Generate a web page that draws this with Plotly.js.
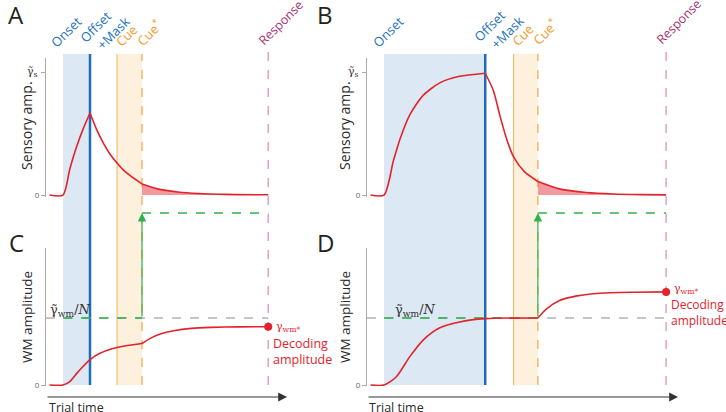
<!DOCTYPE html>
<html><head><meta charset="utf-8">
<script src="https://cdn.plot.ly/plotly-3.0.1.min.js"></script>
<style>html,body{margin:0;padding:0;background:#fff}</style>
</head><body><div id="chart" style="width:726px;height:412px"></div>
<script>
// ---- event data ----
const eventLabels = ['Onset', 'Offset<br>  +Mask', 'Cue', 'Cue<sup>*</sup>', 'Response'];
const eventColors = ['#2272c3', '#2272c3', '#f59a2c', '#f59a2c', '#a8306e'];
const eventTimesA = [0, 0.2, 0.4, 0.585, 1.52];
const eventTimesB = [0, 0.75, 0.96, 1.14, 2.09];

// ---- panel A: sensory amplitude (short stimulus) ----
const sensA_riseT = [-0.1, 0, 0.05, 0.1, 0.15, 0.2];
const sensA_riseV = [0, 0, 0.21, 0.39, 0.54, 0.667];
const sensA_decayT = [0.2, 0.25, 0.3, 0.35, 0.4, 0.45, 0.5, 0.585];
const sensA_decayV = [0.667, 0.53, 0.42, 0.33, 0.26, 0.2, 0.155, 0.09];
const sensA_tailT = [0.585, 0.7, 0.85, 1.0, 1.2, 1.52];
const sensA_tailV = [0.09, 0.05, 0.025, 0.012, 0.005, 0.002];

// ---- panel B: sensory amplitude (long stimulus) ----
const sensB_riseT = [-0.1, 0, 0.07, 0.12, 0.19, 0.29, 0.41, 0.56, 0.75];
const sensB_riseV = [0, 0, 0.28, 0.46, 0.65, 0.81, 0.91, 0.965, 0.99];
const sensB_decayT = [0.75, 0.81, 0.86, 0.91, 0.96, 1.04, 1.14];
const sensB_decayV = [0.99, 0.85, 0.64, 0.45, 0.31, 0.19, 0.11];
const sensB_tailT = [1.14, 1.3, 1.5, 1.7, 1.9, 2.09];
const sensB_tailV = [0.11, 0.05, 0.02, 0.008, 0.003, 0.001];

// ---- panel C: WM amplitude (short stimulus) ----
const wmC_preT = [-0.1, 0, 0.05, 0.1, 0.15, 0.2, 0.27, 0.4, 0.585];
const wmC_preV = [0, 0, 0.05, 0.17, 0.28, 0.38, 0.47, 0.56, 0.62];
const wmC_postT = [0.585, 0.65, 0.72, 0.82, 0.95, 1.1, 1.3, 1.52];
const wmC_postV = [0.62, 0.7, 0.76, 0.81, 0.845, 0.86, 0.868, 0.87];

// ---- panel D: WM amplitude (long stimulus) ----
const wmD_preT = [-0.1, 0, 0.09, 0.19, 0.29, 0.41, 0.56, 0.75, 1.14];
const wmD_preV = [0, 0, 0.12, 0.42, 0.67, 0.85, 0.94, 0.99, 1.0];
const wmD_postT = [1.14, 1.2, 1.3, 1.43, 1.6, 1.85, 2.09];
const wmD_postV = [1.0, 1.13, 1.26, 1.33, 1.37, 1.385, 1.39];

const wmLevel = 1;           // gamma_wm / N
const decodeC = [1.52, 0.87];
const decodeD = [2.09, 1.39];

// ---- helpers ----
const W = 726, H = 412;
const px = v => v / W;
const py = v => 1 - v / H;
const RED = '#e3232b', GREEN = '#2db24e', BLUE = '#1f6cb8';
const FONT = 'Open Sans, Noto Sans, sans-serif';
const SERIF = 'DejaVu Serif, serif';

function seg(xa, ya, t, v, extra) {
  return Object.assign({
    x: t, y: v, xaxis: xa, yaxis: ya, type: 'scatter', mode: 'lines',
    line: {color: RED, width: 1.6, shape: 'spline', smoothing: 0.7},
    hoverinfo: 'skip', showlegend: false
  }, extra || {});
}
const fillTail = {fill: 'tozeroy', fillcolor: 'rgba(232,70,80,0.55)'};

const traces = [
  seg('x', 'y', sensA_riseT, sensA_riseV),
  seg('x', 'y', sensA_decayT, sensA_decayV),
  seg('x', 'y', sensA_tailT, sensA_tailV, fillTail),
  seg('x2', 'y2', sensB_riseT, sensB_riseV),
  seg('x2', 'y2', sensB_decayT, sensB_decayV),
  seg('x2', 'y2', sensB_tailT, sensB_tailV, fillTail),
  seg('x3', 'y3', wmC_preT, wmC_preV),
  seg('x3', 'y3', wmC_postT, wmC_postV),
  seg('x4', 'y4', wmD_preT, wmD_preV),
  seg('x4', 'y4', wmD_postT, wmD_postV),
  {x: [decodeC[0]], y: [decodeC[1]], xaxis: 'x3', yaxis: 'y3', mode: 'markers', type: 'scatter',
   marker: {color: RED, size: 8}, hoverinfo: 'skip', showlegend: false},
  {x: [decodeD[0]], y: [decodeD[1]], xaxis: 'x4', yaxis: 'y4', mode: 'markers', type: 'scatter',
   marker: {color: RED, size: 8}, hoverinfo: 'skip', showlegend: false}
];

const rangeL = [-0.126, 1.659];
const rangeR = [-0.126, 2.178];
const shapes = [];
const annotations = [];

function side(xa, xw, yw, ev, rng, shifts, centersY) {
  const top = py(54), bot = py(385);
  shapes.push({type: 'rect', xref: xa, yref: 'paper', x0: ev[0], x1: ev[1], y0: bot, y1: top,
    fillcolor: '#dce8f3', line: {width: 0}, layer: 'below'});
  shapes.push({type: 'rect', xref: xa, yref: 'paper', x0: ev[2], x1: ev[3], y0: bot, y1: top,
    fillcolor: '#fdf0dc', line: {width: 0}, layer: 'below'});
  shapes.push({type: 'line', xref: xa, yref: 'paper', x0: ev[2], x1: ev[2], y0: bot, y1: top,
    line: {color: '#f8b060', width: 1}, layer: 'below'});
  shapes.push({type: 'line', xref: xa, yref: 'paper', x0: ev[3], x1: ev[3], y0: bot, y1: top,
    line: {color: '#f6a545', width: 1.2, dash: 'dash'}, layer: 'below'});
  shapes.push({type: 'line', xref: xa, yref: 'paper', x0: ev[1], x1: ev[1], y0: bot, y1: top,
    line: {color: BLUE, width: 2.5}, layer: 'below'});
  shapes.push({type: 'line', xref: xa, yref: 'paper', x0: ev[4], x1: ev[4], y0: bot, y1: py(52),
    line: {color: '#dda3c6', width: 1.5, dash: 'dash'}, layer: 'below'});
  // WM level lines
  shapes.push({type: 'line', xref: xw, yref: yw, x0: rng[0], x1: ev[4], y0: wmLevel, y1: wmLevel,
    line: {color: '#8a8a8a', width: 1, dash: 'dash'}, layer: 'below'});
  shapes.push({type: 'line', xref: xw, yref: yw, x0: ev[0], x1: ev[3], y0: wmLevel, y1: wmLevel,
    line: {color: GREEN, width: 1.5, dash: 'dash'}, layer: 'below'});
  shapes.push({type: 'line', xref: xa, yref: 'paper', x0: ev[3], x1: ev[4], y0: py(213), y1: py(213),
    line: {color: GREEN, width: 1.5, dash: 'dash'}});
  annotations.push({xref: xa, yref: 'paper', x: ev[3], y: py(213), ax: 0, ay: 105,
    axref: 'pixel', ayref: 'pixel', showarrow: true, arrowhead: 2, arrowsize: 1.4,
    arrowwidth: 1.2, arrowcolor: GREEN, text: ''});
  // event labels (rotated)
  for (let i = 0; i < eventLabels.length; i++) {
    annotations.push({xref: xa, yref: 'paper', x: ev[i], y: py(centersY[i]), xshift: shifts[i],
      xanchor: 'center', yanchor: 'middle', text: eventLabels[i], showarrow: false,
      textangle: -45, align: 'left',
      font: {family: FONT, size: i === 4 ? 12.5 : 13, color: eventColors[i]}});
  }
}
side('x', 'x3', 'y3', eventTimesA, rangeL, [3, 15, 9, 7, 13], [32, 30, 36, 33, 23]);
side('x2', 'x4', 'y4', eventTimesB, rangeR, [4, 14, 9, 7, 13], [32, 29, 35, 32, 22]);

// text annotations
function txt(x, y, text, opts) {
  annotations.push(Object.assign({xref: 'paper', yref: 'paper', x: px(x), y: py(y), text: text,
    xanchor: 'center', yanchor: 'middle', showarrow: false,
    font: {family: FONT, size: 13, color: '#2b2b2b'}}, opts || {}));
}
const letterFont = {family: FONT, size: 24, color: '#231f20'};
txt(16, 15, 'A', {font: letterFont});
txt(325, 15, 'B', {font: letterFont});
txt(16, 243, 'C', {font: letterFont});
txt(325, 243, 'D', {font: letterFont});
txt(27, 126, 'Sensory amp.', {textangle: -90, font: {family: FONT, size: 14, color: '#2b2b2b'}});
txt(345, 126, 'Sensory amp.', {textangle: -90, font: {family: FONT, size: 14, color: '#2b2b2b'}});
txt(27, 317, 'WM amplitude', {textangle: -90, font: {family: FONT, size: 13.5, color: '#2b2b2b'}});
txt(345, 317, 'WM amplitude', {textangle: -90, font: {family: FONT, size: 13.5, color: '#2b2b2b'}});
txt(40, 72, 'γ̃<sub>s</sub>', {xanchor: 'right', font: {family: SERIF, size: 11, color: '#333'}});
txt(361, 72, 'γ̃<sub>s</sub>', {xanchor: 'right', font: {family: SERIF, size: 11, color: '#333'}});
txt(48, 310, 'γ̃<sub>wm</sub>/<i>N</i>', {xanchor: 'left', font: {family: SERIF, size: 13, color: '#333'}});
txt(393, 310, 'γ̃<sub>wm</sub>/<i>N</i>', {xanchor: 'left', font: {family: SERIF, size: 13, color: '#333'}});
txt(274, 327, 'γ<sub>wm*</sub>', {xanchor: 'left', font: {family: SERIF, size: 11, color: RED}});
txt(672, 289, 'γ<sub>wm*</sub>', {xanchor: 'left', font: {family: SERIF, size: 11, color: RED}});
txt(271, 351, 'Decoding<br>amplitude', {xanchor: 'left', align: 'left', font: {family: FONT, size: 12.5, color: RED}});
txt(669, 312, 'Decoding<br>amplitude', {xanchor: 'left', align: 'left', font: {family: FONT, size: 12, color: RED}});
txt(47, 407, 'Trial time', {xanchor: 'left', font: {family: FONT, size: 12.5, color: '#2b2b2b'}});
txt(367, 407, 'Trial time', {xanchor: 'left', font: {family: FONT, size: 12.5, color: '#2b2b2b'}});
// time arrows
annotations.push({xref: 'paper', yref: 'paper', x: px(287), y: py(397), ax: -241, ay: 0,
  axref: 'pixel', ayref: 'pixel', showarrow: true, arrowhead: 2, arrowsize: 1.6, arrowwidth: 1.1,
  arrowcolor: '#333', text: ''});
annotations.push({xref: 'paper', yref: 'paper', x: px(678), y: py(397), ax: -311, ay: 0,
  axref: 'pixel', ayref: 'pixel', showarrow: true, arrowhead: 2, arrowsize: 1.6, arrowwidth: 1.1,
  arrowcolor: '#333', text: ''});

const xBase = {visible: false, showgrid: false, zeroline: false, fixedrange: true};
const yBase = {showgrid: false, zeroline: false, showline: true, linecolor: '#aaa', linewidth: 1,
  ticks: 'outside', ticklen: 4, tickcolor: '#aaa', tickfont: {family: FONT, size: 8, color: '#666'}};

const layout = {
  width: W, height: H, margin: {l: 0, r: 0, t: 0, b: 0},
  paper_bgcolor: '#fff', plot_bgcolor: 'rgba(0,0,0,0)', showlegend: false,
  xaxis: Object.assign({}, xBase, {domain: [px(46), px(287)], range: rangeL, anchor: 'y'}),
  xaxis2: Object.assign({}, xBase, {domain: [px(367), px(678)], range: rangeR, anchor: 'y2'}),
  xaxis3: Object.assign({}, xBase, {domain: [px(46), px(287)], range: rangeL, anchor: 'y3'}),
  xaxis4: Object.assign({}, xBase, {domain: [px(367), px(678)], range: rangeR, anchor: 'y4'}),
  yaxis: Object.assign({}, yBase, {domain: [py(197), py(58)], range: [-0.016, 1.114], anchor: 'x',
    tickvals: [0, 1], ticktext: ['0', '']}),
  yaxis2: Object.assign({}, yBase, {domain: [py(197), py(58)], range: [-0.016, 1.114], anchor: 'x2',
    tickvals: [0, 1], ticktext: ['0', '']}),
  yaxis3: Object.assign({}, yBase, {domain: [py(386), py(248)], range: [-0.015, 2.045], anchor: 'x3',
    tickvals: [0], ticktext: ['0']}),
  yaxis4: Object.assign({}, yBase, {domain: [py(386), py(248)], range: [-0.015, 2.045], anchor: 'x4',
    tickvals: [0], ticktext: ['0']}),
  shapes: shapes, annotations: annotations
};
Plotly.newPlot('chart', traces, layout, {staticPlot: true, displayModeBar: false});
</script></body></html>
